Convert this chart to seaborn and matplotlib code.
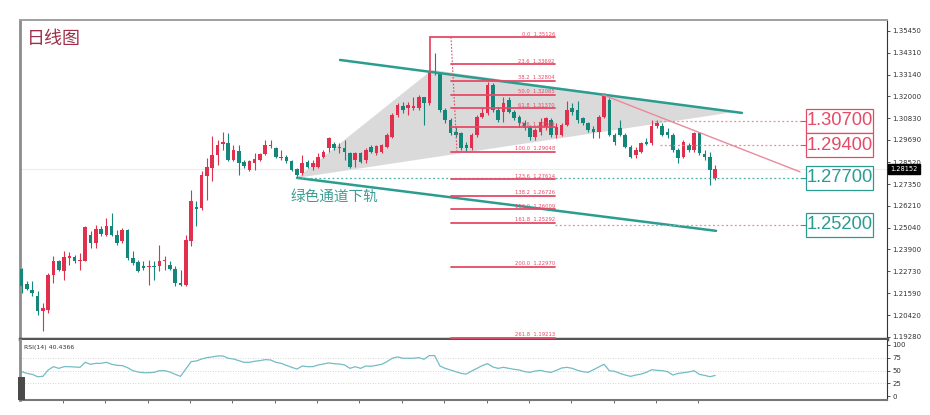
import matplotlib
matplotlib.use("Agg")
import matplotlib.pyplot as plt
import matplotlib.transforms as mtransforms
from matplotlib.patches import Polygon, Rectangle
import seaborn as sns
import numpy as np
import pandas as pd

# ---- candle data ----
opens = [1.2286, 1.2209, 1.2177, 1.2142, 1.2063, 1.2072, 1.2256, 1.2327, 1.2274, 1.2344,
         1.2350, 1.2327, 1.2330, 1.2468, 1.2424, 1.2498, 1.2468, 1.2515, 1.2468, 1.2432,
         1.2494, 1.2344, 1.2322, 1.2300, 1.2297, 1.2300, 1.2300, 1.2327, 1.2309, 1.2286,
         1.2212, 1.2204, 1.2432, 1.2614, 1.2608, 1.2776, 1.2820, 1.2890, 1.2948, 1.2955,
         1.2864, 1.2908, 1.2851, 1.2811, 1.2846, 1.2864, 1.2895, 1.2938, 1.2925, 1.2872,
         1.2881, 1.2855, 1.2814, 1.2793, 1.2854, 1.2828, 1.2828, 1.2881, 1.2925, 1.2948,
         1.2925, 1.2925, 1.2902, 1.2863, 1.2898, 1.2863, 1.2933, 1.2902, 1.2907, 1.2933,
         1.2986, 1.3101, 1.3148, 1.3136, 1.3136, 1.3136, 1.3194, 1.3163, 1.3330, 1.3325,
         1.3127, 1.3074, 1.3013, 1.3004, 1.2942, 1.2925, 1.2995, 1.3092, 1.3110, 1.3259,
         1.3127, 1.3118, 1.3180, 1.3118, 1.3092, 1.3057, 1.3039, 1.2986, 1.3013, 1.3039,
         1.3074, 1.2995, 1.2995, 1.3048, 1.3136, 1.3128, 1.3084, 1.3057, 1.3026, 1.3013,
         1.3092, 1.3180, 1.2995, 1.3031, 1.2995, 1.2934, 1.2890, 1.2907, 1.2960, 1.2951,
         1.3040, 1.3040, 1.3013, 1.2995, 1.2916, 1.2881, 1.2943, 1.2916, 1.3004, 1.2895,
         1.2881, 1.2766]
highs = [1.2292, 1.2221, 1.2221, 1.2168, 1.2107, 1.2265, 1.2353, 1.2336, 1.2380, 1.2374,
         1.2362, 1.2371, 1.2512, 1.2485, 1.2520, 1.2512, 1.2556, 1.2582, 1.2494, 1.2503,
         1.2498, 1.2380, 1.2336, 1.2327, 1.2336, 1.2327, 1.2415, 1.2353, 1.2327, 1.2300,
         1.2283, 1.2468, 1.2705, 1.2644, 1.2802, 1.2872, 1.2987, 1.2969, 1.3013, 1.3004,
         1.2943, 1.2943, 1.2864, 1.2864, 1.2899, 1.2902, 1.2969, 1.2969, 1.2934, 1.2916,
         1.2890, 1.2864, 1.2820, 1.2890, 1.2863, 1.2863, 1.2898, 1.2916, 1.2986, 1.2960,
         1.2955, 1.2969, 1.2907, 1.2907, 1.2907, 1.2925, 1.2942, 1.2942, 1.2948, 1.3004,
         1.3110, 1.3163, 1.3171, 1.3171, 1.3198, 1.3207, 1.3198, 1.3339, 1.3427, 1.3330,
         1.3136, 1.3083, 1.3039, 1.3013, 1.2960, 1.3004, 1.3101, 1.3145, 1.3277, 1.3268,
         1.3145, 1.3198, 1.3198, 1.3127, 1.3101, 1.3074, 1.3048, 1.3030, 1.3083, 1.3092,
         1.3083, 1.3057, 1.3057, 1.3172, 1.3163, 1.3172, 1.3092, 1.3066, 1.3040, 1.3101,
         1.3216, 1.3189, 1.3004, 1.3075, 1.3004, 1.2943, 1.2934, 1.2960, 1.2978, 1.3075,
         1.3075, 1.3057, 1.3031, 1.3004, 1.2925, 1.2969, 1.2951, 1.3013, 1.3013, 1.2916,
         1.2907, 1.2837]
lows = [1.2160, 1.2174, 1.2142, 1.2045, 1.1957, 1.2054, 1.2212, 1.2274, 1.2230, 1.2309,
        1.2318, 1.2283, 1.2327, 1.2397, 1.2397, 1.2459, 1.2459, 1.2459, 1.2415, 1.2424,
        1.2336, 1.2309, 1.2269, 1.2283, 1.2204, 1.2230, 1.2274, 1.2283, 1.2283, 1.2195,
        1.2198, 1.2198, 1.2406, 1.2512, 1.2600, 1.2652, 1.2749, 1.2837, 1.2916, 1.2855,
        1.2855, 1.2784, 1.2820, 1.2802, 1.2811, 1.2855, 1.2890, 1.2925, 1.2872, 1.2864,
        1.2846, 1.2802, 1.2767, 1.2784, 1.2819, 1.2810, 1.2819, 1.2872, 1.2907, 1.2916,
        1.2898, 1.2863, 1.2819, 1.2828, 1.2845, 1.2845, 1.2898, 1.2889, 1.2898, 1.2925,
        1.2978, 1.3092, 1.3110, 1.3101, 1.3127, 1.3127, 1.3048, 1.3154, 1.3312, 1.3118,
        1.3057, 1.2995, 1.2986, 1.2916, 1.2907, 1.2916, 1.2986, 1.3083, 1.3101, 1.3118,
        1.3066, 1.3066, 1.3110, 1.3074, 1.3039, 1.3022, 1.2969, 1.2969, 1.2995, 1.3022,
        1.2986, 1.2978, 1.2987, 1.3040, 1.3101, 1.3057, 1.3048, 1.3013, 1.2978, 1.2978,
        1.3084, 1.2987, 1.2943, 1.2987, 1.2925, 1.2872, 1.2872, 1.2899, 1.2943, 1.2943,
        1.3031, 1.2987, 1.2978, 1.2907, 1.2846, 1.2872, 1.2907, 1.2907, 1.2890, 1.2863,
        1.2731, 1.2758]
closes = [1.2195, 1.2181, 1.2160, 1.2063, 1.2080, 1.2256, 1.2330, 1.2283, 1.2348, 1.2353,
          1.2327, 1.2336, 1.2506, 1.2424, 1.2498, 1.2471, 1.2515, 1.2468, 1.2424, 1.2494,
          1.2344, 1.2318, 1.2274, 1.2292, 1.2304, 1.2297, 1.2327, 1.2336, 1.2286, 1.2212,
          1.2204, 1.2441, 1.2644, 1.2603, 1.2784, 1.2828, 1.2890, 1.2943, 1.2960, 1.2864,
          1.2913, 1.2846, 1.2832, 1.2855, 1.2867, 1.2895, 1.2943, 1.2943, 1.2881, 1.2881,
          1.2855, 1.2811, 1.2784, 1.2846, 1.2828, 1.2845, 1.2881, 1.2907, 1.2978, 1.2925,
          1.2933, 1.2907, 1.2828, 1.2898, 1.2854, 1.2916, 1.2907, 1.2937, 1.2942, 1.2995,
          1.3101, 1.3154, 1.3127, 1.3154, 1.3148, 1.3198, 1.3163, 1.3330, 1.3321, 1.3127,
          1.3074, 1.3004, 1.2995, 1.2925, 1.2925, 1.2995, 1.3092, 1.3110, 1.3259, 1.3127,
          1.3074, 1.3163, 1.3118, 1.3083, 1.3057, 1.3030, 1.2986, 1.3022, 1.3066, 1.3083,
          1.2995, 1.3039, 1.3048, 1.3128, 1.3119, 1.3075, 1.3057, 1.3022, 1.3013, 1.3092,
          1.3202, 1.2995, 1.2960, 1.2995, 1.2934, 1.2881, 1.2916, 1.2951, 1.2948, 1.3040,
          1.3057, 1.2995, 1.2995, 1.2916, 1.2872, 1.2960, 1.2916, 1.3004, 1.2899, 1.2881,
          1.2810, 1.2815]

rsi = [47.7, 44.4, 42.5, 37.9, 38.6, 51.0, 57.5, 54.2, 57.5, 57.5,
       56.9, 56.2, 66.0, 62.1, 64.0, 64.0, 66.0, 62.1, 60.1, 59.5,
       55.5, 49.7, 47.1, 45.7, 45.7, 46.4, 49.7, 49.7, 47.1, 42.5,
       38.6, 52.9, 67.3, 68.6, 72.5, 75.2, 76.5, 78.4, 78.4, 73.9,
       72.5, 69.3, 66.0, 66.0, 68.0, 69.3, 71.2, 70.6, 66.0, 64.0,
       60.1, 56.2, 52.9, 58.8, 57.5, 57.5, 60.8, 62.7, 64.7, 63.4,
       62.7, 60.8, 54.2, 57.5, 54.2, 58.8, 58.2, 60.1, 62.1, 67.3,
       73.9, 76.5, 73.9, 73.9, 73.9, 75.2, 71.9, 79.1, 79.1, 58.8,
       54.2, 51.0, 47.7, 44.4, 43.1, 49.0, 54.2, 59.5, 63.4, 56.9,
       54.2, 56.2, 54.2, 52.3, 51.0, 47.7, 46.4, 49.0, 50.3, 47.7,
       46.4, 50.3, 54.9, 56.2, 54.2, 50.3, 47.7, 46.4, 51.6, 56.9,
       62.1, 49.7, 48.4, 44.4, 41.2, 38.6, 41.2, 43.1, 46.4, 51.6,
       50.3, 49.7, 47.7, 41.2, 44.4, 45.7, 47.1, 49.7, 42.5, 40.5,
       37.9, 40.4]

fib_pct = ["0.0", "23.6", "38.2", "50.0", "61.8", "78.6", "100.0",
           "123.6", "138.2", "150.0", "161.8", "200.0", "261.8"]
fib_price = [1.35126, 1.33692, 1.32804, 1.32085, 1.31370, 1.30349, 1.29048,
             1.27614, 1.26726, 1.26009, 1.25292, 1.22970, 1.19213]

key_levels = [1.30700, 1.29400, 1.27700, 1.25200]
key_labels = ["1.30700", "1.29400", "1.27700", "1.25200"]

price_ticks = [1.35450, 1.34310, 1.33140, 1.32000, 1.30830, 1.29690, 1.28520,
               1.27350, 1.26210, 1.25040, 1.23900, 1.22730, 1.21590, 1.20420, 1.19280]
rsi_ticks = [0, 25, 50, 75, 100]
last_price = 1.28152

# ---- styling ----
RED = "#e0304e"
TEAL = "#14877a"
FIB = "#e64a66"
CHAN = "#2a9d90"
PINK = "#e98a9c"
W, H = 930, 415
PX = 0.0005285  # price per pixel on the main panel

sns.set_theme(style="white")
plt.rcParams["font.family"] = ["DejaVu Sans", "Noto Sans CJK SC"]


def xi(px):
    # screen x (pixels) -> candle index
    return 1 + (px - 21.7) / 5.294


def px_axes(fig, l, t, r, b):
    return fig.add_axes([l / W, 1 - b / H, (r - l) / W, (b - t) / H])


df = pd.DataFrame({"i": np.arange(1, len(opens) + 1), "open": opens, "high": highs,
                   "low": lows, "close": closes, "rsi": rsi})
df["up"] = df["close"] >= df["open"]
df["color"] = np.where(df["up"], RED, TEAL)

fig = plt.figure(figsize=(W / 100, H / 100), dpi=100)
ax = px_axes(fig, 20, 20, 887, 339)
ax_rsi = px_axes(fig, 20, 340, 887, 400)

# --- main price panel ---
ax.axhline(last_price, color="#ececec", lw=0.8, zorder=0)

tri = Polygon([(xi(297), 1.2768), (xi(432), 1.3339), (xi(735), 1.3117)],
              closed=True, fc="#d6d6d6", ec="none", alpha=0.9, zorder=1)
ax.add_patch(tri)

ax.vlines(df["i"], df["low"], df["high"], colors=df["color"], lw=0.8, zorder=3)
body_h = np.maximum((df["close"] - df["open"]).abs(), 0.0004)
body_b = np.minimum(df["open"], df["close"])
ax.bar(df["i"], body_h, bottom=body_b, width=0.68, color=df["color"], lw=0, zorder=4)

# channel lines
ax.plot([xi(340), xi(742)], [1.33917, 1.31116], color=CHAN, lw=1.8, zorder=5)
ax.plot([xi(297), xi(716)], [1.27681, 1.24880], color=CHAN, lw=1.8, zorder=5)
# descending pink trend line
ax.plot([xi(603), xi(800)], [1.3207, 1.2800], color=PINK, lw=1.0, zorder=5)

# fibonacci levels
fib_right = xi(555)
for pct, pr in zip(fib_pct, fib_price):
    left = xi(430) if pct == "0.0" else xi(451)
    ax.plot([left, fib_right], [pr, pr], color=FIB, lw=1.3, zorder=6)
    ax.text(fib_right, pr + 0.0003, f"{pct}  {pr:.5f}", fontsize=3.8, color=FIB,
            ha="right", va="bottom", zorder=7)
ax.plot([xi(430), xi(430)], [fib_price[0], 1.3330], color=FIB, lw=1.3, zorder=6)
ax.plot([xi(451), xi(457)], [fib_price[0], fib_price[6]], color=FIB, lw=0.8,
        ls=(0, (1.5, 1.5)), zorder=6)

# key levels with boxes
starts = [xi(655), xi(660), xi(297), xi(555)]
cols = [FIB, FIB, CHAN, CHAN]
dcols = [PINK, PINK, "#4fb0a6", PINK]
for lv, lab, st, c, dc in zip(key_levels, key_labels, starts, cols, dcols):
    ax.plot([st, xi(801)], [lv, lv], color=dc, lw=0.9, ls=(0, (1.5, 2)), zorder=5)
    ax.plot([xi(801), xi(806)], [lv, lv], color=c, lw=0.8, zorder=5)
    ax.add_patch(Rectangle((xi(806), lv - 12 * PX), xi(873) - xi(806), 24 * PX,
                           fc="white", ec=c, lw=0.9, zorder=8))
    ax.text(xi(839.5), lv, lab, fontsize=13.2, color=c, ha="center", va="center",
            family=["Liberation Sans", "DejaVu Sans"], zorder=9)

ax.text(xi(290), 1.2668, "绿色通道下轨", fontsize=10.5, color="#3b9e95", ha="left",
        va="center", family=["Noto Sans CJK SC", "DejaVu Sans"], zorder=8)
ax.text(0.008, 0.94, "日线图", transform=ax.transAxes, fontsize=13, color="#a02e48",
        ha="left", va="center", family=["Noto Sans CJK SC", "DejaVu Sans"])

ax.set_xlim(xi(20), xi(887))
ax.set_ylim(1.1916, 1.3603)
ax.yaxis.tick_right()
ax.set_yticks(price_ticks)
ax.set_yticklabels([f"{t:.5f}" for t in price_ticks])
ax.tick_params(axis="y", which="both", right=True, length=2, width=0.6, pad=2,
               labelsize=5, colors="#333333")
ax.set_xticks([])
ax.spines["top"].set(color="#a0a0a0", lw=1.4)
ax.spines["left"].set(color="#8c8c8c", lw=2)
ax.spines["right"].set(color="#333333", lw=0.8)
ax.spines["bottom"].set(color="#555555", lw=2.5)

trans = mtransforms.blended_transform_factory(ax.transAxes, ax.transData)
ax.text(1.004, last_price, f"{last_price:.5f}", transform=trans, fontsize=4.8,
        color="white", ha="left", va="center",
        bbox=dict(boxstyle="square,pad=0.3", fc="black", ec="black"), zorder=10)

# --- RSI panel ---
for lvl in [75, 50, 25]:
    ax_rsi.axhline(lvl, color="#c8c8c8", lw=0.6, ls=(0, (1, 2)), zorder=0)
sns.lineplot(data=df, x="i", y="rsi", ax=ax_rsi, color="#73bcc4", lw=0.9)
ax_rsi.set_xlim(xi(20), xi(887))
ax_rsi.set_ylim(-7.5, 109.5)
ax_rsi.set_xlabel("")
ax_rsi.set_ylabel("")
ax_rsi.yaxis.tick_right()
ax_rsi.set_yticks(rsi_ticks)
ax_rsi.tick_params(axis="y", right=True, length=2, width=0.6, pad=2, labelsize=5,
                   colors="#333333")
ax_rsi.set_xticks(np.arange(8.8, 132, 8))
ax_rsi.tick_params(axis="x", bottom=True, length=2, width=0.6, labelbottom=False,
                   colors="#555555")
ax_rsi.text(0.005, 0.92, "RSI(14) 40.4366", transform=ax_rsi.transAxes, fontsize=4.5,
            color="#333333", ha="left", va="top")
ax_rsi.spines["top"].set_visible(False)
ax_rsi.spines["left"].set(color="#8c8c8c", lw=2)
ax_rsi.spines["right"].set(color="#333333", lw=0.8)
ax_rsi.spines["bottom"].set(color="#777777", lw=1.5)

fig.patches.append(Rectangle((18 / W, 1 - 400 / H), 7 / W, 23 / H,
                             transform=fig.transFigure, fc="#4a4a4a", ec="none"))

fig.savefig("out.png", dpi=100)
